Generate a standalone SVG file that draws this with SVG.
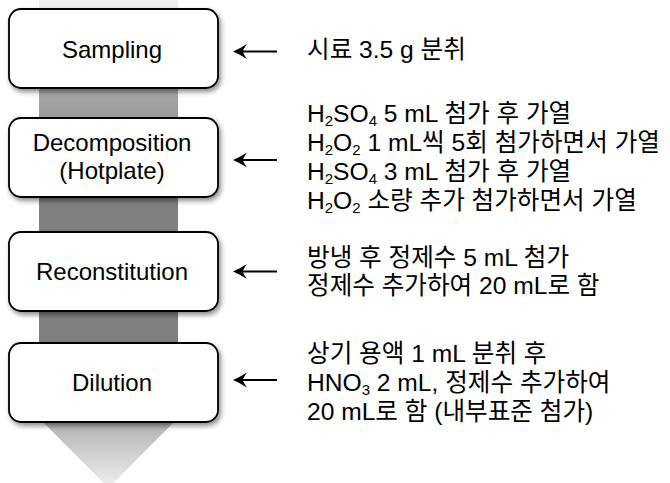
<svg xmlns="http://www.w3.org/2000/svg" width="670" height="483" viewBox="0 0 670 483">
<defs>
<linearGradient id="bg" x1="0" y1="0" x2="0" y2="488" gradientUnits="userSpaceOnUse">
<stop offset="0" stop-color="#f2f2f2"/>
<stop offset="0.19" stop-color="#a6a6a6"/>
<stop offset="0.4" stop-color="#808080"/>
<stop offset="0.7" stop-color="#808080"/>
<stop offset="0.87" stop-color="#b4b4b4"/>
<stop offset="1" stop-color="#f0f0f0"/>
</linearGradient>
<filter id="sh" x="-10%" y="-10%" width="125%" height="135%">
<feDropShadow dx="2" dy="3" stdDeviation="2.5" flood-color="#000" flood-opacity="0.45"/>
</filter>
<g id="arr">
<line x1="6" y1="0" x2="44" y2="0" stroke="#000" stroke-width="2.2"/>
<path d="M0,0 Q7,-3 14,-7.5 Q10,-2 10,0 Q10,2 14,7.5 Q7,3 0,0 Z" fill="#000"/>
</g>
</defs>
<style>
.box{fill:#fff;stroke:#000;stroke-width:1.8}
.lbl{font-family:"Liberation Sans","Noto Sans CJK KR",Arial,sans-serif;font-size:24px;fill:#000;text-anchor:middle}
.txt{font-family:"Liberation Sans","Noto Sans CJK KR",Arial,sans-serif;font-size:24.6px;fill:#000}
.sub{font-size:15px}
</style>
<rect width="670" height="483" fill="#fff"/>
<polygon id="flow" points="39,0 178,0 178,418 108.5,488 39,418" fill="url(#bg)"/>
<g id="sampling">
<rect class="box" x="9" y="9" width="209" height="79" rx="12" filter="url(#sh)"/>
<text class="lbl" x="112" y="58">Sampling</text>
</g>
<g id="decomposition">
<rect class="box" x="9" y="118" width="209" height="79" rx="12" filter="url(#sh)"/>
<text class="lbl" x="112" y="151">Decomposition</text>
<text class="lbl" x="112" y="179">(Hotplate)</text>
</g>
<g id="reconstitution">
<rect class="box" x="9" y="232" width="209" height="79" rx="12" filter="url(#sh)"/>
<text class="lbl" x="112" y="280">Reconstitution</text>
</g>
<g id="dilution">
<rect class="box" x="9" y="343" width="209" height="79" rx="12" filter="url(#sh)"/>
<text class="lbl" x="112" y="391">Dilution</text>
</g>
<g id="connectors">
<use href="#arr" x="233" y="51.5"/>
<use href="#arr" x="233" y="160"/>
<use href="#arr" x="233" y="271.5"/>
<use href="#arr" x="233" y="380"/>
</g>
<g id="notes">
<text class="txt" x="307" y="58">시료 3.5 g 분취</text>
<text class="txt" x="307" y="122">H<tspan class="sub" dy="3.5">2</tspan><tspan dy="-3.5">SO</tspan><tspan class="sub" dy="3.5">4</tspan><tspan dy="-3.5"> 5 mL 첨가 후 가열</tspan></text>
<text class="txt" x="307" y="151">H<tspan class="sub" dy="3.5">2</tspan><tspan dy="-3.5">O</tspan><tspan class="sub" dy="3.5">2</tspan><tspan dy="-3.5"> 1 mL씩 5회 첨가하면서 가열</tspan></text>
<text class="txt" x="307" y="180">H<tspan class="sub" dy="3.5">2</tspan><tspan dy="-3.5">SO</tspan><tspan class="sub" dy="3.5">4</tspan><tspan dy="-3.5"> 3 mL 첨가 후 가열</tspan></text>
<text class="txt" x="307" y="209">H<tspan class="sub" dy="3.5">2</tspan><tspan dy="-3.5">O</tspan><tspan class="sub" dy="3.5">2</tspan><tspan dy="-3.5"> 소량 추가 첨가하면서 가열</tspan></text>
<text class="txt" x="307" y="266">방냉 후 정제수 5 mL 첨가</text>
<text class="txt" x="307" y="294">정제수 추가하여 20 mL로 함</text>
<text class="txt" x="307" y="362">상기 용액 1 mL 분취 후</text>
<text class="txt" x="307" y="391">HNO<tspan class="sub" dy="3.5">3</tspan><tspan dy="-3.5"> 2 mL, 정제수 추가하여</tspan></text>
<text class="txt" x="307" y="420">20 mL로 함 (내부표준 첨가)</text>
</g>
</svg>
